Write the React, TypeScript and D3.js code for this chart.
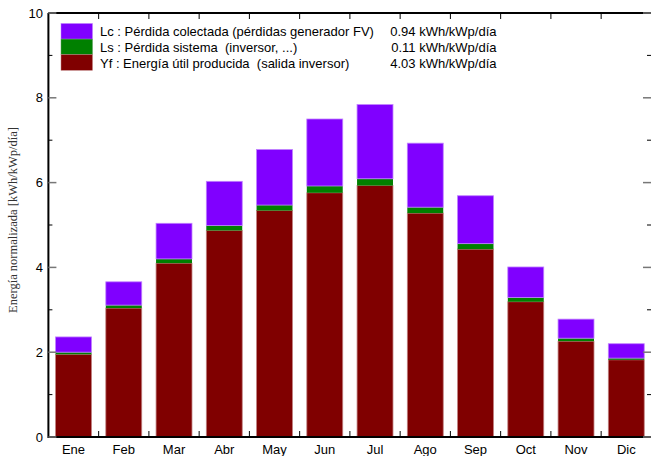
import React from "react";
import * as d3 from "d3";

const months = ["Ene", "Feb", "Mar", "Abr", "May", "Jun", "Jul", "Ago", "Sep", "Oct", "Nov", "Dic"];
const yf = [1.95, 3.04, 4.1, 4.87, 5.34, 5.76, 5.93, 5.28, 4.43, 3.19, 2.26, 1.82];
const ls = [0.05, 0.07, 0.1, 0.12, 0.13, 0.16, 0.16, 0.14, 0.13, 0.1, 0.07, 0.04];
const lc = [0.36, 0.55, 0.84, 1.04, 1.31, 1.58, 1.75, 1.51, 1.13, 0.72, 0.45, 0.34];
const yTicks = [0, 2, 4, 6, 8, 10];
const yMinor = [1, 3, 5, 7, 9];
const legendLabels = [
  "Lc : Pérdida colectada (pérdidas generador FV)",
  "Ls : Pérdida sistema  (inversor, ...)",
  "Yf : Energía útil producida  (salida inversor)",
];
const legendValues = ["0.94 kWh/kWp/día", "0.11 kWh/kWp/día", "4.03 kWh/kWp/día"];
const colors = ["#8000ff", "#008000", "#800000"];
const strokes = ["#c080ff", "#60a060", "#c08080"];

export default function App() {
  const W = 651, H = 456;
  const left = 48.4, right = 651.4, top = 13, bottom = 437;
  const x = d3.scaleBand<string>().domain(months).range([left, right]).paddingInner(0.285).paddingOuter(0.1425);
  const xb = d3.scaleLinear().domain([0, 12]).range([left, right]);
  const y = d3.scaleLinear().domain([0, 10]).range([bottom, top]);
  const font = "'Liberation Sans', Arial, sans-serif";

  const segs: { m: string; y0: number; y1: number; i: number }[] = [];
  months.forEach((m, k) => {
    const a = yf[k], b = a + ls[k], c = b + lc[k];
    segs.push({ m, y0: 0, y1: a, i: 2 });
    segs.push({ m, y0: a, y1: b, i: 1 });
    segs.push({ m, y0: b, y1: c, i: 0 });
  });

  return (
    <svg width={W} height={H} style={{ position: "absolute", left: 0, top: 0 }} fontFamily={font}>
      <rect width={W} height={H} fill="#fff" />
      {segs.map((s, k) => (
        <rect
          key={k}
          x={x(s.m)!}
          y={y(s.y1)}
          width={x.bandwidth()}
          height={y(s.y0) - y(s.y1)}
          fill={colors[s.i]}
          stroke={s.i === 1 ? "none" : strokes[s.i]}
          strokeWidth={0.8}
        />
      ))}
      {/* frame */}
      <line x1={left} x2={right} y1={top} y2={top} stroke="#000" strokeWidth={2} />
      <line x1={left} x2={right} y1={bottom} y2={bottom} stroke="#000" strokeWidth={2} />
      <line x1={left} x2={left} y1={top} y2={bottom + 1} stroke="#000" strokeWidth={2} />
      {/* category ticks */}
      {d3.range(1, 12).map((k) => (
        <g key={k}>
          <line x1={xb(k)} x2={xb(k)} y1={top} y2={top + 6} stroke="#000" strokeWidth={1} />
          <line x1={xb(k)} x2={xb(k)} y1={bottom} y2={bottom - 6} stroke="#000" strokeWidth={1} />
        </g>
      ))}
      {/* y ticks */}
      {yTicks.map((t) => (
        <g key={t}>
          <line x1={left} x2={left + 8} y1={y(t)} y2={y(t)} stroke="#777" strokeWidth={1.5} />
          <line x1={651} x2={643} y1={y(t)} y2={y(t)} stroke="#777" strokeWidth={1.5} />
          <text x={43} y={y(t)} dy="0.35em" textAnchor="end" fontSize={13} fill="#000">
            {t}
          </text>
        </g>
      ))}
      {yMinor.map((t) => (
        <g key={t}>
          <line x1={left} x2={left + 4} y1={y(t)} y2={y(t)} stroke="#000" strokeWidth={1} />
          <line x1={651} x2={647} y1={y(t)} y2={y(t)} stroke="#000" strokeWidth={1} />
        </g>
      ))}
      {/* month labels */}
      {months.map((m) => (
        <text key={m} x={x(m)! + x.bandwidth() / 2} y={454} textAnchor="middle" fontSize={13} fill="#000">
          {m}
        </text>
      ))}
      {/* y title */}
      <text
        transform={`translate(17,${220}) rotate(-90)`}
        textAnchor="middle"
        fontSize={12.5}
        fontFamily="'Liberation Serif', 'Times New Roman', serif"
        fill="#333"
      >
        Energía normalizada [kWh/kWp/día]
      </text>
      {/* legend */}
      {legendLabels.map((l, k) => (
        <g key={k}>
          <rect x={61} y={23.5 + k * 15.6} width={31.5} height={15.6} fill={colors[k]} stroke={strokes[k]} strokeWidth={0.5} />
          <text x={100} y={36 + k * 16.1} fontSize={13} fill="#000" style={{ whiteSpace: "pre" }}>
            {l}
          </text>
          <text x={496.5} y={36 + k * 16.1} fontSize={13} textAnchor="end" fill="#000">
            {legendValues[k]}
          </text>
        </g>
      ))}
    </svg>
  );
}
